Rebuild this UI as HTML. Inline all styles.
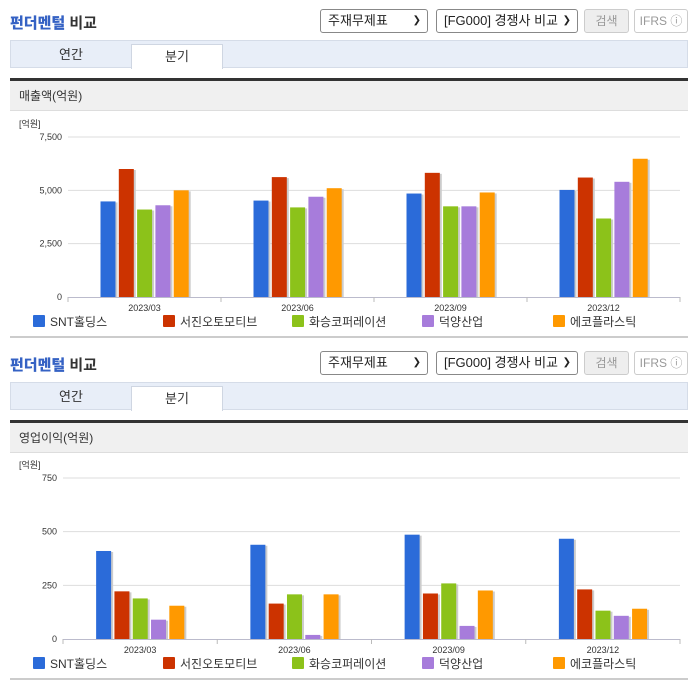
<!DOCTYPE html>
<html><head><meta charset="utf-8">
<style>
*{box-sizing:border-box;margin:0;padding:0}
body{width:696px;height:684px;background:#fff;font-family:"Liberation Sans","Noto Sans CJK KR",sans-serif;position:relative;overflow:hidden;color:#333}
.sec{position:absolute;left:0;width:696px;height:342px}
.title{position:absolute;left:10px;top:12px;font-size:15px;font-weight:bold;color:#333}
.title b{color:#3562c4}
.sel{position:absolute;top:9px;height:24px;border:1px solid #888;border-radius:3px;font-size:13px;line-height:22px;padding-left:7px;background:#fff;color:#222}
.sel span{position:absolute;right:6px;top:0;font-size:10px}
.btn{position:absolute;top:9px;height:24px;border:1px solid #ccc;border-radius:3px;font-size:12px;line-height:22px;text-align:center;color:#999}
.tabs{position:absolute;left:10px;top:40px;width:678px;height:28px;background:#e8eef8;border:1px solid #d5dce8}
.tab{position:absolute;top:0;height:27px;font-size:13px;line-height:27px;text-align:center;color:#333}
.tab.on{background:#fff;border:1px solid #cfd6e2;border-bottom:none;top:3px;height:25px;line-height:23px}
.dark{position:absolute;left:10px;top:78px;width:678px;height:3px;background:#333}
.hd{position:absolute;left:10px;top:81px;width:678px;height:30px;background:#f0f0f0;border-bottom:1px solid #ddd;font-size:12px;line-height:30px;padding-left:9px;color:#333}
.bot{position:absolute;left:10px;top:336px;width:678px;height:2px;background:#ccc}
svg{position:absolute;left:0;top:0}
</style></head><body>

<div class="sec" id="s1" style="top:0">
 <div class="title"><b>펀더멘털</b> 비교</div>
 <div class="sel" style="left:320px;width:108px">주재무제표<span>&#10095;</span></div>
 <div class="sel" style="left:436px;width:142px">[FG000] 경쟁사 비교<span>&#10095;</span></div>
 <div class="btn" style="left:584px;width:45px;background:#eee">검색</div>
 <div class="btn" style="left:634px;width:54px">IFRS ⓘ</div>
 <div class="tabs">
  <div class="tab" style="left:0;width:120px">연간</div>
  <div class="tab on" style="left:120px;width:92px">분기</div>
 </div>
 <div class="dark"></div>
 <div class="hd">매출액(억원)</div>
 <svg id="c1" width="696" height="342"></svg>
 <div class="bot"></div>
</div>

<div class="sec" id="s2" style="top:342px">
 <div class="title"><b>펀더멘털</b> 비교</div>
 <div class="sel" style="left:320px;width:108px">주재무제표<span>&#10095;</span></div>
 <div class="sel" style="left:436px;width:142px">[FG000] 경쟁사 비교<span>&#10095;</span></div>
 <div class="btn" style="left:584px;width:45px;background:#eee">검색</div>
 <div class="btn" style="left:634px;width:54px">IFRS ⓘ</div>
 <div class="tabs">
  <div class="tab" style="left:0;width:120px">연간</div>
  <div class="tab on" style="left:120px;width:92px">분기</div>
 </div>
 <div class="dark"></div>
 <div class="hd">영업이익(억원)</div>
 <svg id="c2" width="696" height="342"></svg>
 <div class="bot"></div>
</div>

<script>
const categories = ["2023/03","2023/06","2023/09","2023/12"];
const seriesNames = ["SNT홀딩스","서진오토모티브","화승코퍼레이션","덕양산업","에코플라스틱"];
const rev_snt = [4480,4520,4850,5020];
const rev_seojin = [6000,5620,5820,5600];
const rev_hwaseung = [4100,4200,4250,3680];
const rev_dukyang = [4300,4700,4250,5400];
const rev_eco = [5000,5100,4900,6480];
const revTicks = [0,2500,5000,7500];
const revTickLabels = ["0","2,500","5,000","7,500"];
const op_snt = [410,439,486,467];
const op_seojin = [222,165,212,231];
const op_hwaseung = [189,208,259,132];
const op_dukyang = [90,19,61,108];
const op_eco = [155,208,226,141];
const opTicks = [0,250,500,750];
const opTickLabels = ["0","250","500","750"];
const colors = ["#2b6bd9","#cc3300","#8cc21a","#a77cdb","#ff9900"];

const NS="http://www.w3.org/2000/svg";
function mk(svg,tag,attrs,name){const e=document.createElementNS(NS,tag);for(const k in attrs)e.setAttribute(k,attrs[k]);
 
 
 svg.appendChild(e);return e;}

function draw(id,series,ticks,tickLabels,x0,x1,yTop,yBot,maxV){
 const svg=document.getElementById(id);
 const y=v=>yBot-(v/maxV)*(yBot-yTop);
 const gw=(x1-x0)/categories.length;
 const t=mk(svg,'text',{x:19,y:yTop-10,'font-size':9,fill:'#333'},'y-axis-unit');t.textContent='[억원]';
 ticks.forEach((v,i)=>{
  if(i>0) mk(svg,'line',{x1:x0,x2:x1,y1:y(v),y2:y(v),stroke:'#ddd','stroke-width':1},'gridline');
  const tl=mk(svg,'text',{x:x0-6,y:y(v)+3,'font-size':9,fill:'#333','text-anchor':'end'},'y-tick-label');tl.textContent=tickLabels[i];
 });
 mk(svg,'line',{x1:x0,x2:x1,y1:yBot+0.5,y2:yBot+0.5,stroke:'#bbc','stroke-width':1},'x-axis');
 for(let g=0;g<=categories.length;g++){const xx=x0+g*gw;mk(svg,'line',{x1:xx,x2:xx,y1:yBot,y2:yBot+5,stroke:'#bbb'},'x-tick');}
 categories.forEach((c,g)=>{
  const cx=x0+gw*(g+0.5);
  series.forEach((s,k)=>{
   const bx=cx-44+k*18.3, top=y(s[g]);
   mk(svg,'rect',{x:bx+2,y:top+1,width:15,height:yBot-top-1,fill:'#ccc'},'bar-shadow');
   mk(svg,'rect',{x:bx,y:top,width:15,height:yBot-top,fill:colors[k]},'bar-'+c+'-'+k);
  });
  const cl=mk(svg,'text',{x:cx,y:yBot+14,'font-size':9,fill:'#333','text-anchor':'middle'},'x-tick-label');cl.textContent=c;
 });
 const lx=[33,163,292,422,553];
 seriesNames.forEach((n,k)=>{
  mk(svg,'rect',{x:lx[k],y:315,width:12,height:12,fill:colors[k],rx:1},'legend-swatch');
  const lt=mk(svg,'text',{x:lx[k]+17,y:326,'font-size':12,fill:'#333'},'legend-entry');lt.textContent=n;
 });
}
draw('c1',[rev_snt,rev_seojin,rev_hwaseung,rev_dukyang,rev_eco],revTicks,revTickLabels,68,680,137,297,7500);
draw('c2',[op_snt,op_seojin,op_hwaseung,op_dukyang,op_eco],opTicks,opTickLabels,63,680,136,297,750);
</script>
</body></html>
